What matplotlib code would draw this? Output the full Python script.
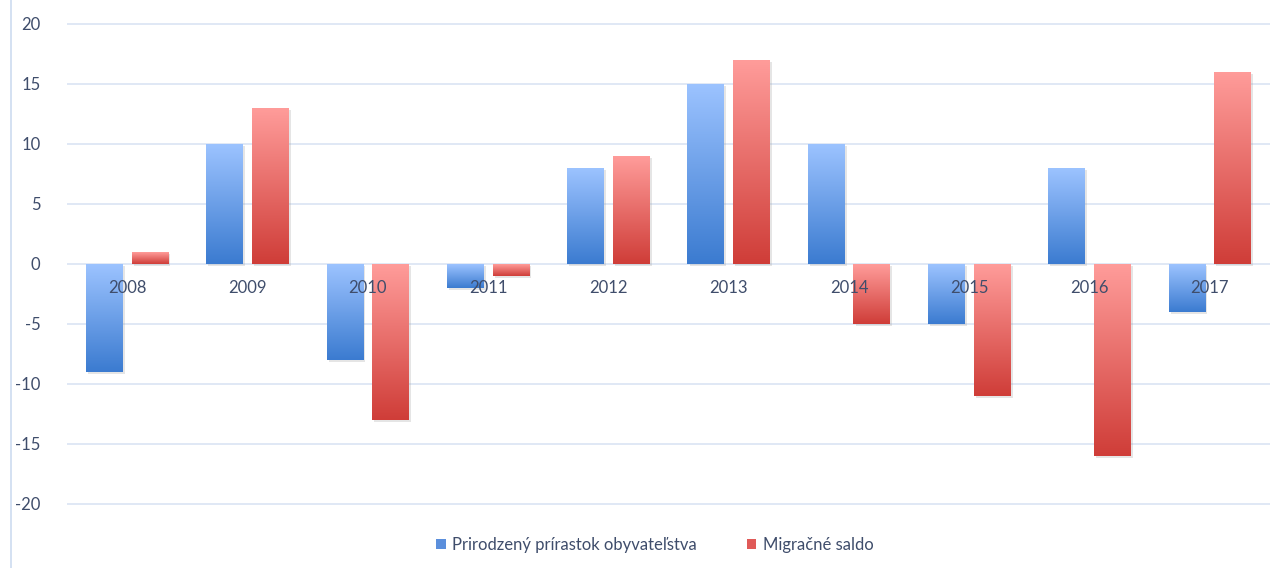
"""Natural increase and migration balance by year, 2008-2017."""

import matplotlib

matplotlib.use("Agg")

import matplotlib.pyplot as plt
import numpy as np
from matplotlib.colors import LinearSegmentedColormap
from matplotlib.lines import Line2D
from matplotlib.patches import Patch
import matplotlib.patheffects as pe

years = ["2008", "2009", "2010", "2011", "2012",
         "2013", "2014", "2015", "2016", "2017"]
natural_increase = [-9, 10, -8, -2, 8, 15, 10, -5, 8, -4]
migration_balance = [1, 13, -13, -1, 9, 17, -5, -11, -16, 16]

series_labels = ["Prirodzený prírastok obyvateľstva", "Migračné saldo"]

TEXT = "#3f4d6b"
GRID = "#dae4f3"

plt.rcParams["font.family"] = ["Lato", "DejaVu Sans"]
plt.rcParams["axes.unicode_minus"] = False

blue_map = LinearSegmentedColormap.from_list("blue", ["#3b7bd0", "#9cc3ff"])
red_map = LinearSegmentedColormap.from_list("red", ["#cf3d38", "#ff9c9a"])

figure = plt.figure(figsize=(12.7, 5.68), dpi=100)
axes = figure.add_axes([67 / 1270, 48 / 568, 1203 / 1270, 520 / 568])

x = np.arange(len(years))
width = 0.305
offset = 0.19

shadow = [pe.SimplePatchShadow(offset=(1.5, -1.5), shadow_rgbFace="#999999", alpha=0.25),
          pe.Normal()]

gradient = np.linspace(0, 1, 256).reshape(-1, 1)

for values, cmap, shift in [
    (natural_increase, blue_map, -offset),
    (migration_balance, red_map, offset),
]:
    bars = axes.bar(x + shift, values, width, color="white", zorder=2)
    for bar in bars:
        bar.set_path_effects(shadow)
        x0, y0 = bar.get_x(), bar.get_y()
        x1, y1 = x0 + bar.get_width(), y0 + bar.get_height()
        axes.imshow(
            gradient,
            cmap=cmap,
            origin="lower",
            aspect="auto",
            extent=(x0, x1, min(y0, y1), max(y0, y1)),
            zorder=3,
        )

axes.set_xlim(-0.5, len(years) - 0.5)
axes.set_ylim(22 - 520 / 12, 22)
axes.set_yticks(range(-20, 21, 5))
axes.yaxis.grid(True, color=GRID, linewidth=1.2, zorder=0)
axes.set_axisbelow(True)

for side in ["top", "right", "left", "bottom"]:
    axes.spines[side].set_visible(False)

# category labels sit on the zero line, above the bars
axes.set_xticks([])
for position, year in zip(x, years):
    axes.annotate(
        year,
        xy=(position, 0),
        xytext=(0, -24),
        textcoords="offset pixels",
        ha="center",
        va="center",
        fontsize=12,
        color=TEXT,
        zorder=6,
    )

axes.tick_params(axis="y", length=0, pad=19, labelsize=12, labelcolor=TEXT)

figure.add_artist(Line2D([11 / 1270, 11 / 1270], [0, 1], color="#cddcf0", linewidth=1.2))

handles = [
    Patch(facecolor="#5b8fdc", label=series_labels[0]),
    Patch(facecolor="#e05a58", label=series_labels[1]),
]
figure.legend(
    handles=handles,
    loc="center",
    bbox_to_anchor=(655 / 1270, 1 - 545 / 568),
    ncol=2,
    frameon=False,
    fontsize=12,
    labelcolor=TEXT,
    handlelength=0.55,
    handleheight=0.55,
    handletextpad=0.4,
    columnspacing=3.0,
)

figure.savefig("out.png", dpi=100)
plt.close(figure)
